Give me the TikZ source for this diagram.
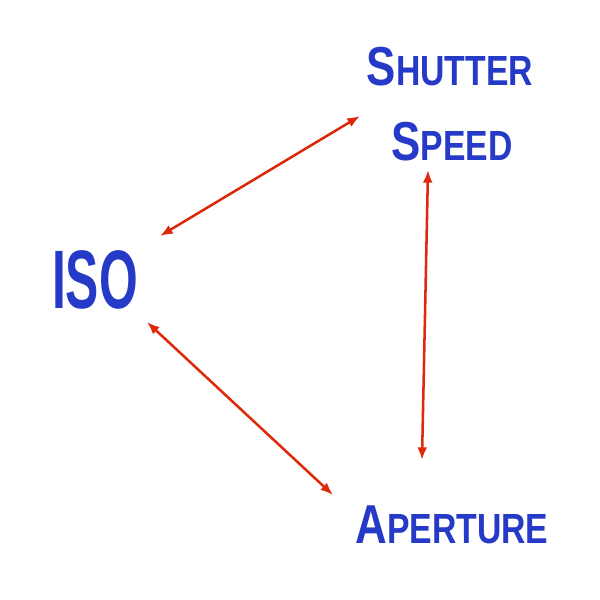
\documentclass[tikz,border=0pt]{standalone}
\usepackage{fontspec}
\setmainfont{Liberation Sans}
\definecolor{capblue}{RGB}{38,58,200}
\definecolor{arrred}{RGB}{222,42,10}
\newcommand{\capword}[2]{\scalebox{0.8}[1]{{\fontsize{39}{39}\selectfont #1}{\fontsize{30}{30}\selectfont #2}}}
\tikzset{
  word/.style={text=capblue, font=\bfseries, inner sep=0pt, anchor=base},
  link/.style={{Latex[length=9pt,width=7pt]}-{Latex[length=9pt,width=7pt]}, draw=arrred, line width=1.8pt}
}
\usetikzlibrary{arrows.meta}
\begin{document}
\begin{tikzpicture}[x=0.025cm,y=-0.025cm]
\useasboundingbox (0,0) rectangle (600,600);
\node[word] (shutter) at (450,85) {\capword{S}{HUTTER}};
\node[word] (speed) at (452,160) {\capword{S}{PEED}};
\node[word] (iso) at (95,308) {\scalebox{0.6}[1]{\fontsize{59}{59}\selectfont ISO}};
\node[word] (aperture) at (452,543) {\capword{A}{PERTURE}};
\coordinate (a1) at (160,236);
\coordinate (a2) at (360,116);
\coordinate (b1) at (428,170);
\coordinate (b2) at (422,460);
\coordinate (c1) at (147,322);
\coordinate (c2) at (333,495);
\draw[link] (a1) -- (a2);
\draw[link] (b1) -- (b2);
\draw[link] (c1) -- (c2);
\end{tikzpicture}
\end{document}
